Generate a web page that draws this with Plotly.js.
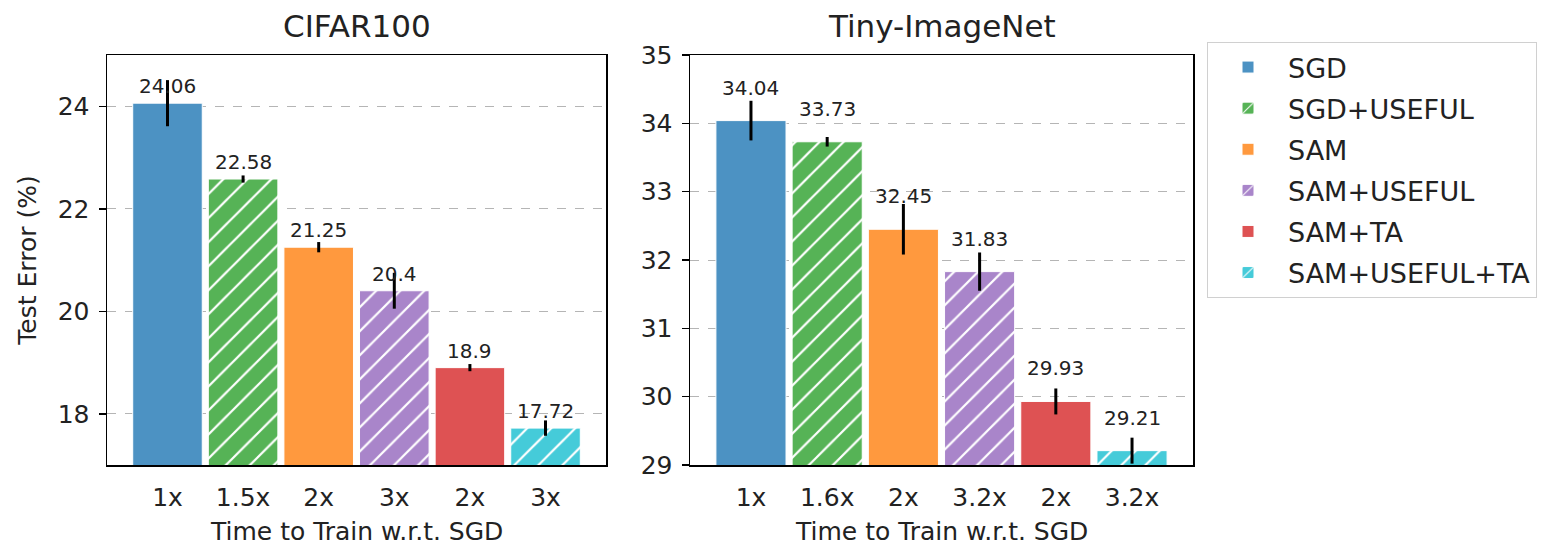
<!DOCTYPE html>
<html>
<head>
<meta charset="utf-8">
<script src="https://cdn.plot.ly/plotly-3.0.1.min.js"></script>
<style>html,body{margin:0;padding:0;background:#fff;}#chart{width:1547px;height:548px;}</style>
</head>
<body>
<div id="chart"></div>
<script>
// ---- data ----
const methods = ['SGD', 'SGD+USEFUL', 'SAM', 'SAM+USEFUL', 'SAM+TA', 'SAM+USEFUL+TA'];
const cifarTicks = ['1x', '1.5x', '2x', '3x', '2x', '3x'];
const tinyTicks = ['1x', '1.6x', '2x', '3.2x', '2x', '3.2x'];
const cifarVals = [24.06, 22.58, 21.25, 20.4, 18.9, 17.72];
const cifarErr = [0.45, 0.07, 0.10, 0.35, 0.07, 0.15];
const tinyVals = [34.04, 33.73, 32.45, 31.83, 29.93, 29.21];
const tinyErr = [0.29, 0.07, 0.37, 0.28, 0.19, 0.19];
const xTitle = 'Time to Train w.r.t. SGD';
const yTitle = 'Test Error (%)';
const panelTitles = ['CIFAR100', 'Tiny-ImageNet'];

// ---- styles ----
const colors = ['#4c92c3', '#56b356', '#ff993e', '#a985ca', '#de5253', '#45cbd9'];
const hatched = [false, true, false, true, false, true];
const FONT = 'DejaVu Sans, Verdana, sans-serif';
const TXT = '#222';

const panels = [
  {vals: cifarVals, errs: cifarErr, ticks: cifarTicks, xa: 'x', ya: 'y', labelShift: 17},
  {vals: tinyVals, errs: tinyErr, ticks: tinyTicks, xa: 'x2', ya: 'y2', labelShift: 33}
];

const traces = [];
const annotations = [];
panels.forEach((p, pi) => {
  methods.forEach((m, i) => {
    const marker = {color: colors[i], line: {color: 'white', width: 1}};
    if (hatched[i]) {
      marker.pattern = {shape: '/', fillmode: 'replace', bgcolor: colors[i], fgcolor: '#ffffff',
                        fgopacity: 1, size: 17, solidity: 0.13};
    }
    traces.push({
      type: 'bar', name: m, legendgroup: m, showlegend: pi === 0,
      x: [i], y: [p.vals[i]], width: 0.92,
      xaxis: p.xa, yaxis: p.ya,
      marker: marker,
      error_y: {type: 'data', array: [p.errs[i]], color: 'black', thickness: 3, width: 0, visible: true},
      hoverinfo: 'name+y'
    });
    annotations.push({
      xref: p.xa, yref: p.ya, x: i, y: p.vals[i], text: String(p.vals[i]),
      showarrow: false, yshift: p.labelShift, yanchor: 'middle', xanchor: 'center',
      font: {family: FONT, size: 20, color: TXT}
    });
  });
});

const doms = [[107 / 1547, 606 / 1547], [690 / 1547, 1193 / 1547]];
doms.forEach((d, k) => {
  annotations.push({xref: 'paper', yref: 'paper', x: (d[0] + d[1]) / 2, y: 1 + 29 / 410,
    text: panelTitles[k], showarrow: false, xanchor: 'center', yanchor: 'middle',
    font: {family: FONT, size: 31, color: TXT}});
  annotations.push({xref: 'paper', yref: 'paper', x: (d[0] + d[1]) / 2, y: -82 / 410,
    text: xTitle, showarrow: false, xanchor: 'center', yanchor: 'bottom', borderpad: 0,
    font: {family: FONT, size: 25, color: TXT}});
});

function xAxis(domain, anchor, ticks) {
  return {
    domain: domain, anchor: anchor, range: [-0.8, 5.8],
    tickmode: 'array', tickvals: ticks.map((t, i) => i), ticktext: ticks,
    ticks: '', showgrid: false, zeroline: false,
    showline: true, mirror: true, linecolor: 'black', linewidth: 1.5,
    tickfont: {family: FONT, size: 25, color: TXT}, ticklabelstandoff: 9,
    automargin: false, fixedrange: true
  };
}
function yAxis(anchor, range, dtick, tick0, title) {
  const a = {
    anchor: anchor, domain: [0, 1], range: range, dtick: dtick, tick0: tick0,
    ticks: 'outside', ticklen: 7, tickwidth: 1.5, tickcolor: 'black',
    showgrid: true, gridcolor: '#b5b5b5', griddash: 'dash', gridwidth: 1,
    zeroline: false, showline: true, mirror: true, linecolor: 'black', linewidth: 1.5,
    tickfont: {family: FONT, size: 25, color: TXT}, ticklabelstandoff: 4,
    automargin: false, fixedrange: true
  };
  if (title) a.title = {text: title, font: {family: FONT, size: 25, color: TXT}, standoff: 14};
  return a;
}

const layout = {
  width: 1547, height: 548,
  margin: {l: 0, r: 0, t: 55, b: 83},
  paper_bgcolor: 'white', plot_bgcolor: 'white',
  barmode: 'overlay', bargap: 0,
  font: {family: FONT, color: TXT},
  xaxis: xAxis(doms[0], 'y', cifarTicks),
  yaxis: yAxis('x', [17, 25], 2, 18, yTitle),
  xaxis2: xAxis(doms[1], 'y2', tinyTicks),
  yaxis2: yAxis('x2', [29, 35], 1, 29, null),
  legend: {
    x: 1207 / 1547, y: 1 + 13 / 410, xanchor: 'left', yanchor: 'top',
    font: {family: FONT, size: 27, color: TXT},
    bordercolor: '#d0d0d0', borderwidth: 1, bgcolor: 'white',
    traceorder: 'grouped', tracegroupgap: 3, itemwidth: 70
  },
  annotations: annotations,
  showlegend: true
};

Plotly.newPlot('chart', traces, layout, {displayModeBar: false, staticPlot: true});
</script>
</body>
</html>
